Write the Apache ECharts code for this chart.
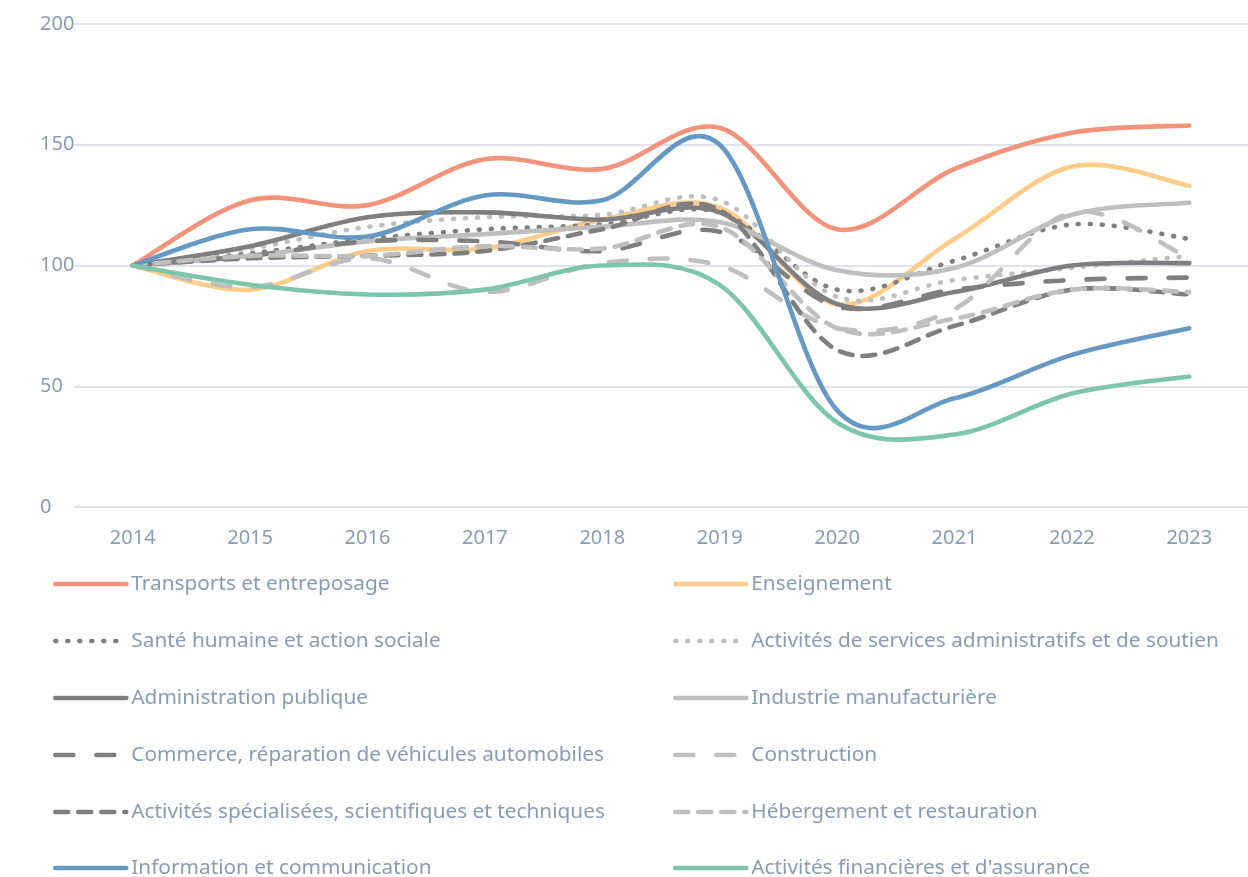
<!DOCTYPE html>
<html>
<head>
<meta charset="utf-8">
<script src="https://cdn.jsdelivr.net/npm/echarts@6/dist/echarts.min.js"></script>
<style>
html,body{margin:0;padding:0;background:#fff;}
#chart{width:1248px;height:877px;}
</style>
</head>
<body>
<div id="chart"></div>
<script>
const years = ['2014','2015','2016','2017','2018','2019','2020','2021','2022','2023'];
const yTicks = [0, 50, 100, 150, 200];

const transports   = [100,127,125,144,140,157,115,140,155,158];
const enseignement = [100, 90,106,107,119,124, 84,111,141,133];
const sante        = [100,105,111,115,117,122, 90,102,117,111];
const adminServ    = [100,107,116,120,121,127, 87, 94, 99,104];
const adminPub     = [100,108,120,122,119,122, 84, 89,100,101];
const industrie    = [100,104,110,113,116,118, 98, 99,121,126];
const commerce     = [100,104,110,110,106,114, 83, 90, 94, 95];
const construction = [100, 91,103, 89,101,100, 74, 82,122,103];
const activSpec    = [100,103,104,106,115,123, 65, 75, 90, 88];
const hebergement  = [100,104,104,108,107,116, 74, 78, 90, 89];
const information  = [100,115,112,129,127,150, 40, 45, 63, 74];
const financieres  = [100, 92, 88, 90,100, 92, 35, 30, 47, 54];

const names = [
  'Transports et entreposage','Enseignement',
  'Santé humaine et action sociale','Activités de services administratifs et de soutien',
  'Administration publique','Industrie manufacturière',
  'Commerce, réparation de véhicules automobiles','Construction',
  'Activités spécialisées, scientifiques et techniques','Hébergement et restauration',
  'Information et communication',"Activités financières et d'assurance"
];
const values = [transports,enseignement,sante,adminServ,adminPub,industrie,commerce,construction,activSpec,hebergement,information,financieres];

const DARK = '#7f7f7f', LIGHT = '#bfbfbf';
const DOT = [1, 11], LONG = [18, 23], SHORT = [13, 10];
const styles = [
  {color:'#f4937c', type:'solid'},
  {color:'#ffcc8a', type:'solid'},
  {color:DARK, type:DOT},
  {color:LIGHT, type:DOT},
  {color:DARK, type:'solid'},
  {color:LIGHT, type:'solid'},
  {color:DARK, type:LONG},
  {color:LIGHT, type:LONG},
  {color:DARK, type:SHORT},
  {color:LIGHT, type:SHORT},
  {color:'#6698c4', type:'solid'},
  {color:'#7dc5ab', type:'solid'}
];
const LW = 4.6;
const labelColor = '#8a9bb2';
const fontFamily = '"Noto Sans", sans-serif';

// Invisible line series: carry the legend entries
const legendSeries = names.map((n, i) => ({
  name: n,
  type: 'line',
  data: values[i],
  symbol: 'none',
  silent: true,
  z: 1,
  lineStyle: {color: styles[i].color, width: LW, type: styles[i].type, opacity: 0},
  itemStyle: {color: styles[i].color}
}));

// Visible curves: smoothed (Catmull-Rom) paths through the points given by the axes
function makeRender(i) {
  return function (params, api) {
    if (params.dataIndex !== 0) return null;
    const vals = values[i];
    const pts = vals.map((v, k) => api.coord([k, v]));
    let d = 'M' + pts[0][0] + ' ' + pts[0][1];
    for (let k = 0; k < pts.length - 1; k++) {
      const p0 = pts[Math.max(k - 1, 0)], p1 = pts[k], p2 = pts[k + 1], p3 = pts[Math.min(k + 2, pts.length - 1)];
      const c1x = p1[0] + (p2[0] - p0[0]) / 6, c1y = p1[1] + (p2[1] - p0[1]) / 6;
      const c2x = p2[0] - (p3[0] - p1[0]) / 6, c2y = p2[1] - (p3[1] - p1[1]) / 6;
      d += ' C' + c1x + ' ' + c1y + ' ' + c2x + ' ' + c2y + ' ' + p2[0] + ' ' + p2[1];
    }
    const t = styles[i].type;
    return {
      type: 'path',
      shape: {pathData: d},
      style: {
        fill: 'none',
        stroke: styles[i].color,
        lineWidth: LW,
        lineDash: Array.isArray(t) ? t : null,
        lineCap: 'round',
        lineJoin: 'round'
      },
      silent: true
    };
  };
}
const curveSeries = names.map((n, i) => ({
  name: 'curve' + i,
  type: 'custom',
  coordinateSystem: 'cartesian2d',
  data: values[i].map((v, k) => [k, v]),
  encode: {x: 0, y: 1},
  clip: false,
  silent: true,
  z: 3 + i,
  renderItem: makeRender(i)
}));

const rowY = [584, 641, 698, 755, 812, 868];
const legends = names.map((n, i) => ({
  data: [n],
  left: (i % 2 === 0) ? 53 : 673,
  top: rowY[Math.floor(i / 2)] - 11,
  itemWidth: 71,
  itemHeight: 22,
  padding: 0,
  selectedMode: false,
  lineStyle: {color: styles[i].color, width: LW, type: styles[i].type, cap: 'round', opacity: 1},
  itemStyle: {opacity: 0, color: 'rgba(0,0,0,0)', borderWidth: 0},
  textStyle: {color: labelColor, fontSize: 20.8, fontFamily: fontFamily, lineHeight: 22}
}));

const chart = echarts.init(document.getElementById('chart'), null, {renderer: 'canvas'});
chart.setOption({
  animation: false,
  backgroundColor: '#ffffff',
  grid: {left: 74, right: -12, top: 24, bottom: 370, containLabel: false},
  xAxis: {
    type: 'category',
    data: years,
    boundaryGap: true,
    axisLine: {show: false},
    axisTick: {show: false},
    axisLabel: {color: labelColor, fontSize: 20, fontFamily: fontFamily, margin: 21}
  },
  yAxis: {
    type: 'value',
    min: yTicks[0],
    max: yTicks[yTicks.length - 1],
    interval: 50,
    axisLine: {show: false},
    axisTick: {show: false},
    splitLine: {lineStyle: {color: '#dfe4ea', width: 2}},
    axisLabel: {color: labelColor, fontSize: 20, fontFamily: fontFamily, margin: 34, align: 'left'}
  },
  legend: legends,
  series: legendSeries.concat(curveSeries)
});
</script>
</body>
</html>
